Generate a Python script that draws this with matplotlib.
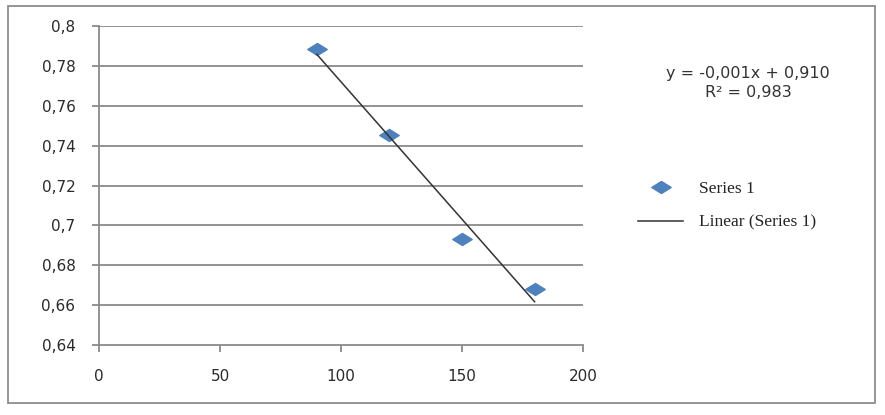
import numpy as np
import matplotlib.pyplot as plt
from matplotlib.patches import Rectangle
from matplotlib.path import Path

# data
x_vals = [90, 120, 150, 180]
y_vals = [0.7885, 0.7453, 0.6932, 0.668]
x_ticks = [0, 50, 100, 150, 200]
y_ticks = [0.64, 0.66, 0.68, 0.70, 0.72, 0.74, 0.76, 0.78, 0.80]
y_labels = ['0,64', '0,66', '0,68', '0,7', '0,72', '0,74', '0,76', '0,78', '0,8']
eq_text = 'y = -0,001x + 0,910\nR² = 0,983'

GRID = '#8a8a8a'
BLUE = '#4f81bd'


def main():
    fig = plt.figure(figsize=(8.85, 4.15), dpi=100)
    fig.patch.set_facecolor('white')

    # outer frame of the chart area
    fig.add_artist(Rectangle((8 / 885, 1 - 403 / 415), 867 / 885, 397 / 415,
                             transform=fig.transFigure, fill=False,
                             edgecolor='#8c8c8c', linewidth=1.3))

    ax = fig.add_axes([99 / 885, 1 - 345 / 415, 484 / 885, 319 / 415])
    ax.set_xlim(0, 200)
    ax.set_ylim(0.64, 0.80)

    for yv in y_ticks[1:]:
        ax.axhline(yv, color=GRID, linewidth=1.3, zorder=1)

    # squashed diamond marker like excel
    diamond = Path([(-1, 0), (0, 0.62), (1, 0), (0, -0.62), (-1, 0)],
                   [Path.MOVETO, Path.LINETO, Path.LINETO, Path.LINETO, Path.CLOSEPOLY])
    ax.plot(x_vals, y_vals, linestyle='none', marker=diamond, markersize=14,
            color=BLUE, markeredgecolor=BLUE, zorder=3, label='Series 1')

    # linear trendline
    k, b = np.polyfit(x_vals, y_vals, 1)
    xt = np.array([x_vals[0], x_vals[-1]])
    ax.plot(xt, k * xt + b, color='#333333', linewidth=1.1, zorder=4,
            label='Linear (Series 1)')

    for s in ['top', 'right']:
        ax.spines[s].set_visible(False)
    for s in ['left', 'bottom']:
        ax.spines[s].set_color(GRID)
        ax.spines[s].set_linewidth(1.3)

    ax.set_xticks(x_ticks)
    ax.set_xticklabels([str(t) for t in x_ticks])
    ax.set_yticks(y_ticks)
    ax.set_yticklabels(y_labels)
    ax.tick_params(axis='both', colors=GRID, labelcolor='#2a2a2a', labelsize=11,
                   width=1.3, length=5)
    ax.tick_params(axis='x', pad=12)
    ax.tick_params(axis='y', pad=12)

    fig.text(748 / 885, 1 - 83 / 415, eq_text, ha='center', va='center',
             fontsize=11.5, color='#333333', linespacing=1.3)

    leg = fig.legend(loc='upper left', bbox_to_anchor=(638 / 885, 1 - 181 / 415),
                     frameon=False, prop={'family': 'Liberation Serif', 'size': 12.5},
                     handlelength=2.6, handletextpad=0.9, labelspacing=1.0,
                     borderpad=0, borderaxespad=0)
    for t in leg.get_texts():
        t.set_color('#222222')

    fig.savefig('out.png', dpi=100)


if __name__ == '__main__':
    main()
